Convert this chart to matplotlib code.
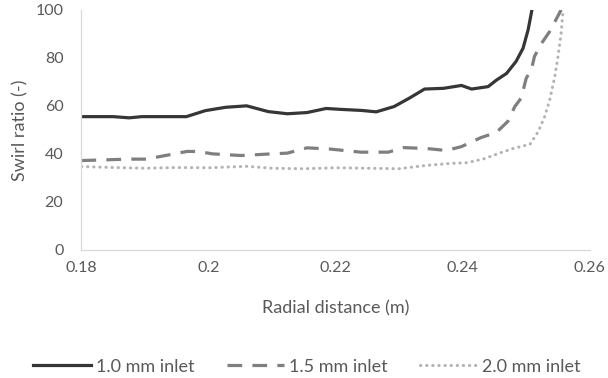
#!/usr/bin/env python3

import matplotlib
matplotlib.use("Agg")
import matplotlib.pyplot as plt


FIGURE_DPI = 100
TEXT_COLOR = "#595959"
TICK_FONT_SIZE = 11.5
TITLE_FONT_SIZE = 13

# radial distance (m) / swirl ratio (-)
x_10mm = [0.1800, 0.1850, 0.1875, 0.1895, 0.1965, 0.1995, 0.2027, 0.2060,
          0.2094, 0.2124, 0.2155, 0.2185, 0.2210, 0.2240, 0.2264, 0.2292,
          0.2316, 0.2340, 0.2370, 0.2398, 0.2414, 0.2440, 0.2453, 0.2469,
          0.2484, 0.2495, 0.2503, 0.2509]
y_10mm = [55.5, 55.5, 55.0, 55.5, 55.5, 58.0, 59.4, 60.0,
          57.6, 56.7, 57.2, 58.9, 58.5, 58.1, 57.5, 59.7,
          63.2, 67.0, 67.3, 68.5, 67.0, 68.0, 70.7, 73.5,
          78.5, 84.0, 91.7, 100.0]

x_15mm = [0.1800, 0.1875, 0.1902, 0.1966, 0.1984, 0.2006, 0.2051, 0.2100,
          0.2124, 0.2155, 0.2191, 0.2240, 0.2283, 0.2307, 0.2344, 0.2374,
          0.2398, 0.2429, 0.2453, 0.2471, 0.2482, 0.2492, 0.2500, 0.2508,
          0.2513, 0.2524, 0.2537, 0.2555]
y_15mm = [37.2, 37.8, 37.8, 41.0, 41.0, 40.0, 39.3, 40.0,
          40.3, 42.5, 42.0, 40.7, 40.7, 42.6, 42.2, 41.4,
          43.0, 46.8, 48.9, 53.5, 59.7, 63.2, 71.5, 75.0,
          80.6, 86.0, 91.0, 100.0]

x_20mm = [0.1800, 0.1850, 0.1900, 0.1950, 0.2000, 0.2060, 0.2100, 0.2150,
          0.2200, 0.2250, 0.2300, 0.2343, 0.2380, 0.2406, 0.2432, 0.2458,
          0.2479, 0.2506, 0.2519, 0.2529, 0.2537, 0.2545, 0.2550, 0.2555,
          0.2558]
y_20mm = [34.7, 34.3, 34.0, 34.3, 34.2, 34.8, 34.0, 33.8,
          34.2, 34.0, 33.8, 35.2, 36.0, 36.3, 37.8, 40.3,
          42.2, 44.0, 49.3, 55.5, 62.5, 72.2, 80.5, 90.3,
          100.0]

series_labels = ["1.0 mm inlet", "1.5 mm inlet", "2.0 mm inlet"]
x_ticks = [0.18, 0.2, 0.22, 0.24, 0.26]
x_tick_labels = ["0.18", "0.2", "0.22", "0.24", "0.26"]
y_ticks = [0, 20, 40, 60, 80, 100]


def main() -> int:
    plt.rcParams["font.family"] = ["Lato", "DejaVu Sans"]

    fig = plt.figure(figsize=(6.08, 3.78), dpi=FIGURE_DPI)
    ax = fig.add_axes([0.134, 0.339, 0.836, 0.635])

    ax.plot(x_10mm, y_10mm, color="#363636", linewidth=2.3,
            solid_joinstyle="round", label=series_labels[0])
    ax.plot(x_15mm, y_15mm, color="#7f7f7f", linewidth=2.3,
            dashes=(4.6, 3.2), label=series_labels[1])
    ax.plot(x_20mm, y_20mm, color="#b3b3b3", linewidth=2.2,
            dashes=(0.1, 1.9), dash_capstyle="round", label=series_labels[2])

    ax.set_xlim(0.18, 0.26)
    ax.set_ylim(0, 100)
    ax.set_xticks(x_ticks)
    ax.set_xticklabels(x_tick_labels)
    ax.set_yticks(y_ticks)
    ax.tick_params(length=0, colors=TEXT_COLOR, labelsize=TICK_FONT_SIZE)
    ax.tick_params(axis="y", pad=13)
    ax.tick_params(axis="x", pad=8)

    for side in ("top", "right"):
        ax.spines[side].set_visible(False)
    for side in ("left", "bottom"):
        ax.spines[side].set_color("#d9d9d9")
        ax.spines[side].set_linewidth(0.9)

    ax.set_xlabel("Radial distance (m)", color=TEXT_COLOR,
                  fontsize=TITLE_FONT_SIZE, labelpad=18)
    ax.set_ylabel("Swirl ratio (-)", color=TEXT_COLOR,
                  fontsize=TITLE_FONT_SIZE, labelpad=5)

    fig.legend(loc="center", bbox_to_anchor=(0.505, 0.03), ncol=3, frameon=False,
               handlelength=3.2, handletextpad=0.25, columnspacing=1.8,
               labelcolor=TEXT_COLOR, fontsize=TITLE_FONT_SIZE)

    fig.savefig("out.png", dpi=FIGURE_DPI)
    return 0


if __name__ == "__main__":
    raise SystemExit(main())
